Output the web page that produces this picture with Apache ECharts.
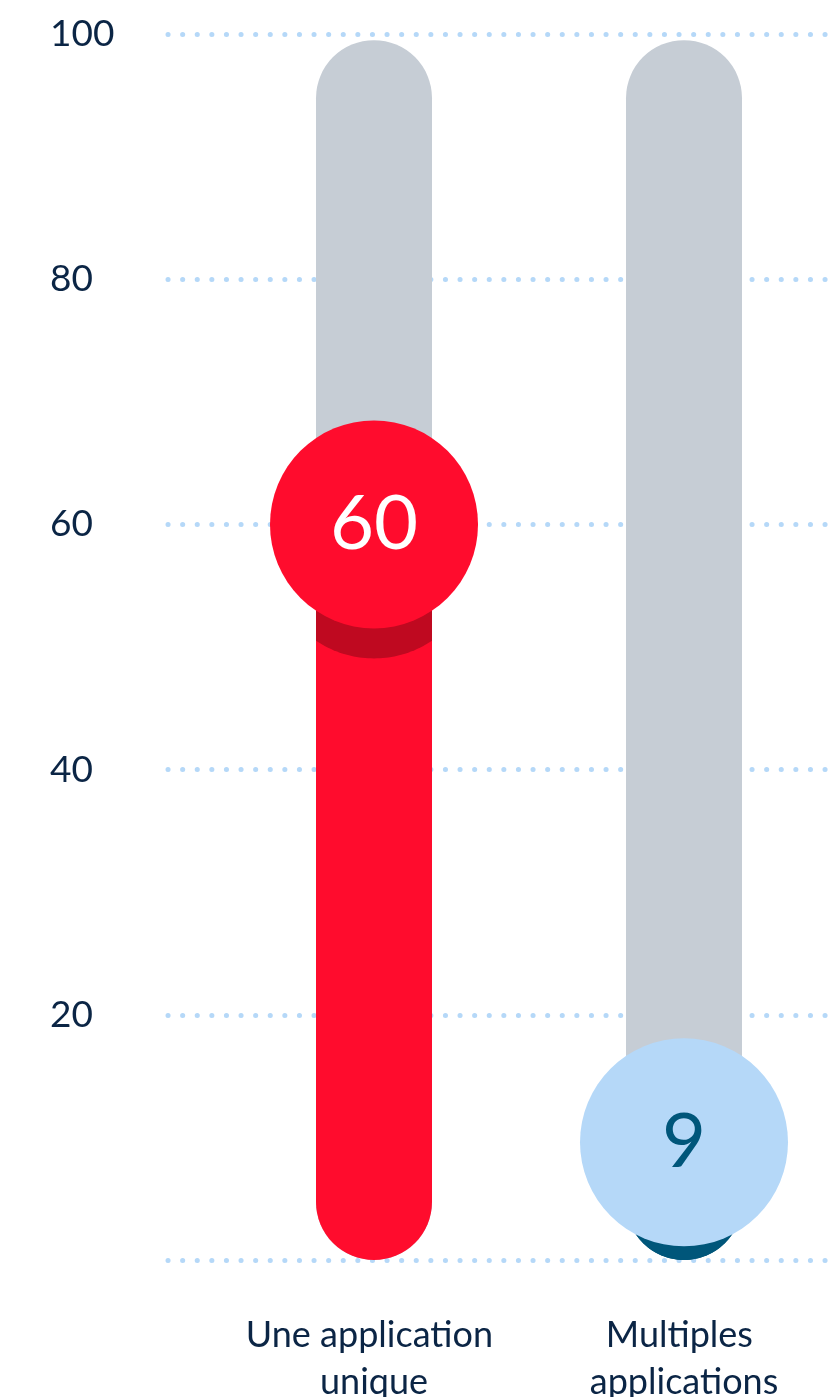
<!DOCTYPE html>
<html>
<head>
<meta charset="utf-8">
<script src="https://cdn.jsdelivr.net/npm/echarts@6/dist/echarts.min.js"></script>
<style>
  html, body { margin: 0; padding: 0; background: #fff; }
  #chart { width: 837px; height: 1397px; }
</style>
</head>
<body>
<div id="chart"></div>
<script>
// données
const categories = ['Une application unique', 'Multiples applications']
const values = [60, 9.6]
const valueLabels = ['60', '9']
const trackValues = [99.5, 99.5]
const yTicks = [0, 20, 40, 60, 80, 100]

// couleurs par catégorie
const barColors = ['#ff0c2d', '#00567a']
const shadowColors = ['#bf0920', '#00567a']
const bubbleColors = ['#ff0c2d', '#b5d8f8']
const bubbleTextColors = ['#ffffff', '#00567a']

const BAR_W = 116
const BUBBLE_R = 104
const SHADOW_OFF = 30
const textColor = '#0b2545'
const fontFamily = 'Lato, "Noto Sans", sans-serif'

const chart = echarts.init(document.getElementById('chart'))

function renderItem(params, api) {
  const i = api.value(0)
  const base = api.coord([i, 0])
  const cx = base[0]
  const baseY = base[1]
  const valY = api.coord([i, api.value(1)])[1]
  const trackY = api.coord([i, api.value(2)])[1]
  const r = BAR_W / 2

  // zone sombre : disque décalé, limité à la forme de la barre
  const sc = valY + SHADOW_OFF
  const top = []
  const bottom = []
  const steps = 40
  for (let k = 0; k <= steps; k++) {
    const dx = -r + (BAR_W * k) / steps
    const h = Math.sqrt(Math.max(0, BUBBLE_R * BUBBLE_R - dx * dx))
    const rr = Math.sqrt(Math.max(0, r * r - dx * dx))
    const barBottom = baseY - r + rr
    const barTop = valY + r - rr
    top.push([cx + dx, Math.max(sc - h, barTop)])
    bottom.unshift([cx + dx, Math.min(sc + h, barBottom)])
  }

  return {
    type: 'group',
    children: [
      {
        type: 'rect',
        shape: { x: cx - r, y: trackY, width: BAR_W, height: baseY - trackY, r: r },
        style: { fill: '#c6cdd5' }
      },
      {
        type: 'rect',
        shape: { x: cx - r, y: valY, width: BAR_W, height: baseY - valY, r: r },
        style: { fill: barColors[i] }
      },
      {
        type: 'polygon',
        shape: { points: top.concat(bottom) },
        style: { fill: shadowColors[i] }
      },
      {
        type: 'circle',
        shape: { cx: cx, cy: valY, r: BUBBLE_R },
        style: { fill: bubbleColors[i] }
      },
      {
        type: 'text',
        x: cx,
        y: valY,
        style: {
          text: valueLabels[i],
          fill: bubbleTextColors[i],
          font: '76px ' + fontFamily,
          align: 'center',
          verticalAlign: 'middle'
        }
      }
    ]
  }
}

const option = {
  animation: false,
  grid: [
    { left: 166, right: 0, top: 34, bottom: 137, outerBoundsMode: 'none' },
    { left: 219, width: 620, top: 34, bottom: 137, outerBoundsMode: 'none' }
  ],
  xAxis: [
    { type: 'value', gridIndex: 0, show: false, min: 0, max: 1 },
    {
      type: 'category',
      gridIndex: 1,
      data: categories,
      axisLine: { show: false },
      axisTick: { show: false },
      axisLabel: {
        margin: 52,
        color: textColor,
        fontFamily: fontFamily,
        fontSize: 36,
        lineHeight: 47,
        width: 280,
        overflow: 'break',
        interval: 0
      }
    }
  ],
  yAxis: [
    {
      type: 'value',
      gridIndex: 0,
      min: yTicks[0],
      max: yTicks[yTicks.length - 1],
      interval: yTicks[1] - yTicks[0],
      axisLine: { show: false },
      axisTick: { show: false },
      axisLabel: {
        showMinLabel: false,
        align: 'left',
        margin: 116,
        color: textColor,
        fontFamily: fontFamily,
        fontSize: 37
      },
      splitLine: {
        show: true,
        lineStyle: {
          color: '#b5d8f8',
          width: 5,
          type: [0.1, 14.5],
          dashOffset: -2,
          cap: 'round'
        }
      }
    },
    {
      type: 'value',
      gridIndex: 1,
      min: yTicks[0],
      max: yTicks[yTicks.length - 1],
      show: false
    }
  ],
  series: [
    {
      type: 'custom',
      xAxisIndex: 1,
      yAxisIndex: 1,
      z: 5,
      clip: false,
      renderItem: renderItem,
      encode: { x: 0, y: 1 },
      data: categories.map((c, i) => [i, values[i], trackValues[i]])
    }
  ]
}

chart.setOption(option)
</script>
</body>
</html>
